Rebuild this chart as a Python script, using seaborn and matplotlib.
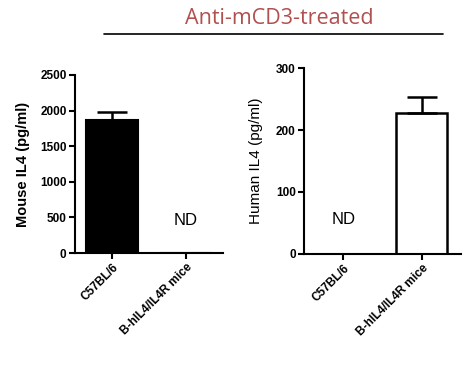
import numpy as np
import pandas as pd
import seaborn as sns
import matplotlib.pyplot as plt
from matplotlib.lines import Line2D

# Data
groups = ["C57BL/6", "B-hIL4/IL4R mice"]
mouse_il4 = [1870, 0]
mouse_err = [110, 0]
human_il4 = [0, 228]
human_err = [0, 26]

sns.set_theme(style="ticks", rc={"text.color": "black", "axes.labelcolor": "black",
                                 "axes.edgecolor": "black", "xtick.color": "black",
                                 "ytick.color": "black"})
plt.rcParams['font.family'] = ['Liberation Sans', 'DejaVu Sans']

fig = plt.figure(figsize=(4.68, 3.68), dpi=100)
ax1 = fig.add_axes([0.160, 0.3125, 0.316, 0.484])
ax2 = fig.add_axes([0.650, 0.310, 0.335, 0.505])

mouse = pd.DataFrame({"group": groups, "value": mouse_il4})
human = pd.DataFrame({"group": groups, "value": human_il4})

# Left panel: black filled bar
sns.barplot(data=mouse, x="group", y="value", color="black", edgecolor="black",
            linewidth=1.5, width=0.7, ax=ax1)
ax1.errorbar([0], [mouse_il4[0]], yerr=[[0], [mouse_err[0]]], fmt="none",
             ecolor="black", elinewidth=1.8, capsize=11, capthick=1.8)
ax1.set_ylim(0, 2500)
ax1.set_yticks([0, 500, 1000, 1500, 2000, 2500])
ax1.set_ylabel("Mouse IL4 (pg/ml)", fontsize=10.5, fontweight="bold", labelpad=7)
ax1.text(1, 460, "ND", ha="center", va="center", fontsize=12)

# Right panel: open bar
sns.barplot(data=human, x="group", y="value", color="white", edgecolor="black",
            linewidth=1.8, width=0.65, ax=ax2)
ax2.errorbar([1], [human_il4[1]], yerr=[[0], [human_err[1]]], fmt="none",
             ecolor="black", elinewidth=1.8, capsize=10.5, capthick=1.8)
ax2.set_ylim(0, 300)
ax2.set_yticks([0, 100, 200, 300])
ax2.set_ylabel("Human IL4 (pg/ml)", fontsize=11, labelpad=9)
ax2.text(0, 56, "ND", ha="center", va="center", fontsize=12)

for ax in (ax1, ax2):
    ax.set_xlim(-0.5, 1.5)
    ax.set_xlabel("")
    sns.despine(ax=ax)
    ax.spines["left"].set_linewidth(1.5)
    ax.spines["bottom"].set_linewidth(1.5)
    ax.tick_params(axis="both", width=1.5, length=4, labelsize=8.5, pad=2)
    ax.set_xticks([0, 1])
    ax.set_xticklabels(groups, rotation=45, ha="right", rotation_mode="anchor",
                       fontweight="bold", fontsize=8.5)
    for lab in ax.get_yticklabels():
        lab.set_fontweight("bold")

# Header
fig.text(0.596, 0.951, "Anti-mCD3-treated", ha="center", va="center",
         fontsize=15.5, color="#b0504f", family=["Open Sans", "DejaVu Sans"])
fig.add_artist(Line2D([0.222, 0.947], [0.908, 0.908], color="black", linewidth=1.2))

fig.savefig("out.png", dpi=100)
